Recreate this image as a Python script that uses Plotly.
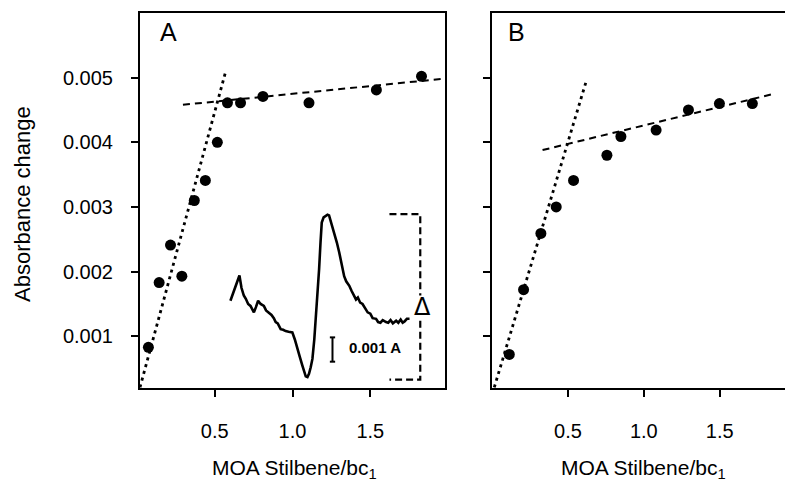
import plotly.graph_objects as go

# ---------------- data ----------------
a_x = [0.074, 0.143, 0.216, 0.289, 0.369, 0.44, 0.517, 0.582, 0.666, 0.81, 1.106, 1.539, 1.829]
a_y = [0.00083, 0.00183, 0.00241, 0.00193, 0.0031, 0.00341, 0.0040, 0.00461, 0.00461, 0.00471, 0.00461, 0.00481, 0.00502]

b_x = [0.114, 0.208, 0.322, 0.423, 0.537, 0.757, 0.849, 1.081, 1.294, 1.498, 1.715]
b_y = [0.00072, 0.00172, 0.00259, 0.0030, 0.00341, 0.0038, 0.00409, 0.00419, 0.0045, 0.0046, 0.0046]

# fitted lines (end points)
a_steep_x = [0.02, 0.569]
a_steep_y = [0.00021, 0.00508]
a_flat_x = [0.296, 1.956]
a_flat_y = [0.00458, 0.00498]

b_steep_x = [0.015, 0.62]
b_steep_y = [0.00021, 0.00494]
b_flat_x = [0.333, 1.857]
b_flat_y = [0.00388, 0.00475]

# inset difference spectrum (drawn in panel A coordinates)
spec_x = [0.601, 0.63, 0.659, 0.672, 0.687, 0.70, 0.715, 0.730, 0.742, 0.752, 0.765, 0.779, 0.795,
          0.816, 0.83, 0.848, 0.865, 0.88, 0.892, 0.905, 0.924, 0.94, 0.956, 0.975, 0.999, 1.015,
          1.031, 1.047, 1.063, 1.075, 1.085, 1.096, 1.106, 1.117, 1.128, 1.14, 1.150, 1.160, 1.171,
          1.18, 1.188, 1.20, 1.214, 1.225, 1.235, 1.25, 1.268, 1.285, 1.30, 1.315, 1.332, 1.345,
          1.365, 1.38, 1.395, 1.408, 1.42, 1.435, 1.450, 1.465, 1.483, 1.50, 1.515, 1.537, 1.55,
          1.565, 1.58, 1.601, 1.615, 1.63, 1.645, 1.666, 1.68, 1.695, 1.708, 1.72, 1.735, 1.752]
spec_y = [0.00155, 0.00175, 0.00194, 0.00175, 0.00163, 0.00158, 0.00150, 0.00147, 0.00140, 0.00137,
          0.00145, 0.00155, 0.00150, 0.00147, 0.00140, 0.00137, 0.00133, 0.00128, 0.00122, 0.00120,
          0.00111, 0.00110, 0.00108, 0.00107, 0.00106, 0.00095, 0.00080, 0.00068, 0.00055, 0.00045,
          0.00038, 0.00037, 0.00042, 0.00052, 0.00065, 0.00095, 0.00127, 0.00165, 0.00204, 0.00245,
          0.00276, 0.00284, 0.00286, 0.00288, 0.00287, 0.00275, 0.00260, 0.00245, 0.00230, 0.00210,
          0.00193, 0.00185, 0.00178, 0.00170, 0.00162, 0.00157, 0.00160, 0.00152, 0.00150, 0.00143,
          0.00137, 0.00135, 0.00128, 0.00127, 0.00122, 0.00121, 0.00125, 0.00122, 0.00121, 0.00125,
          0.00120, 0.00124, 0.00121, 0.00126, 0.00121, 0.00123, 0.00127, 0.00127]

# bracket marking the amplitude (Δ)
brk_upper_x = [1.623, 1.821, 1.821]
brk_upper_y = [0.00289, 0.00289, 0.00163]
brk_lower_x = [1.821, 1.821, 1.623]
brk_lower_y = [0.00124, 0.00033, 0.00033]

# scale bar 0.001 A
bar_x = [1.257, 1.257]
bar_y = [0.000607, 0.000983]
bar_cap = 0.017

x_tickvals = [0.5, 1.0, 1.5]
x_ticktext = ["0.5", "1.0", "1.5"]
y_tickvals = [0.001, 0.002, 0.003, 0.004, 0.005]
y_ticktext = ["0.001", "0.002", "0.003", "0.004", "0.005"]

FONT = "Liberation Sans, Arial, sans-serif"
BLACK = "black"

fig = go.Figure()

def pts(x, y, xa, ya):
    fig.add_trace(go.Scatter(x=x, y=y, mode="markers", xaxis=xa, yaxis=ya,
                             marker=dict(size=11, color=BLACK), showlegend=False))

def line(x, y, xa, ya, dash, width=2.2):
    fig.add_trace(go.Scatter(x=x, y=y, mode="lines", xaxis=xa, yaxis=ya,
                             line=dict(color=BLACK, width=width, dash=dash), showlegend=False))

# Panel A
line(a_steep_x, a_steep_y, "x", "y", "3px,4px", 2.8)
line(a_flat_x, a_flat_y, "x", "y", "7px,5px", 2.0)
pts(a_x, a_y, "x", "y")
line(spec_x, spec_y, "x", "y", "solid", 2.6)
line(brk_upper_x, brk_upper_y, "x", "y", "7px,4px", 2.2)
line(brk_lower_x, brk_lower_y, "x", "y", "7px,4px", 2.2)
line(bar_x, bar_y, "x", "y", "solid", 2.0)
line([bar_x[0] - bar_cap, bar_x[0] + bar_cap], [bar_y[0], bar_y[0]], "x", "y", "solid", 2.0)
line([bar_x[0] - bar_cap, bar_x[0] + bar_cap], [bar_y[1], bar_y[1]], "x", "y", "solid", 2.0)

# Panel B
line(b_steep_x, b_steep_y, "x2", "y2", "3px,4px", 2.8)
line(b_flat_x, b_flat_y, "x2", "y2", "7px,5px", 2.0)
pts(b_x, b_y, "x2", "y2")

axis_common = dict(showgrid=False, zeroline=False, showline=True, linecolor=BLACK, linewidth=2,
                   ticks="outside", ticklen=7, tickwidth=1.5, tickcolor=BLACK, automargin=False,
                   tickfont=dict(family=FONT, size=20, color=BLACK))

fig.update_layout(
    width=785, height=481,
    margin=dict(l=0, r=0, t=13, b=93),
    paper_bgcolor="white", plot_bgcolor="white",
    xaxis=dict(domain=[140 / 785, 445 / 785], range=[0.02, 1.98], tickvals=x_tickvals,
               ticktext=x_ticktext, mirror=True, ticklabelstandoff=17, **axis_common),
    yaxis=dict(domain=[0, 1], range=[0.0002, 0.0060], tickvals=y_tickvals,
               ticktext=y_ticktext, mirror=True, ticklabelstandoff=14, **axis_common),
    xaxis2=dict(domain=[492 / 785, 1.0], range=[0.0, 1.93], tickvals=x_tickvals,
                ticktext=x_ticktext, mirror=True, ticklabelstandoff=17, anchor="y2", **axis_common),
    yaxis2=dict(domain=[0, 1], range=[0.0002, 0.0060], tickvals=y_tickvals,
                showticklabels=False, mirror=False, anchor="x2", **axis_common),
)

ann_font = dict(family=FONT, color=BLACK)
x_title = 'MOA Stilbene/bc<sub><span style="color:black">1</span></sub>'
annotations = [
    dict(text="A", x=0.2, y=0.0057, xref="x", yref="y", showarrow=False,
         font=dict(size=25, **ann_font)),
    dict(text="B", x=0.16, y=0.0057, xref="x2", yref="y2", showarrow=False,
         font=dict(size=25, **ann_font)),
    dict(text="<b>0.001 A</b>", x=1.53, y=0.00082, xref="x", yref="y", showarrow=False,
         font=dict(size=15, **ann_font)),
    dict(text="Δ", x=1.835, y=0.00145, xref="x", yref="y", showarrow=False,
         font=dict(size=24, family="DejaVu Sans, sans-serif", color=BLACK)),
    dict(text=x_title, x=294, y=469, xref="paper", yref="paper",
         showarrow=False, font=dict(size=21, **ann_font)),
    dict(text=x_title, x=643, y=469, xref="paper", yref="paper",
         showarrow=False, font=dict(size=21, **ann_font)),
    dict(text="Absorbance change", x=22, y=204, xref="paper", yref="paper",
         showarrow=False, textangle=-90, font=dict(size=22, **ann_font)),
]
# convert pixel-positioned annotations to paper coordinates
plot_h = 481 - 13 - 93
for a in annotations:
    if a["xref"] == "paper":
        a["x"] = a["x"] / 785
        a["y"] = (481 - 93 - a["y"]) / plot_h
        a["xanchor"] = "center"
        a["yanchor"] = "middle"
fig.update_layout(annotations=annotations)

fig.write_html("out.html", config={"displayModeBar": False},
               post_script="document.body.style.margin='0';document.body.style.padding='0';")
